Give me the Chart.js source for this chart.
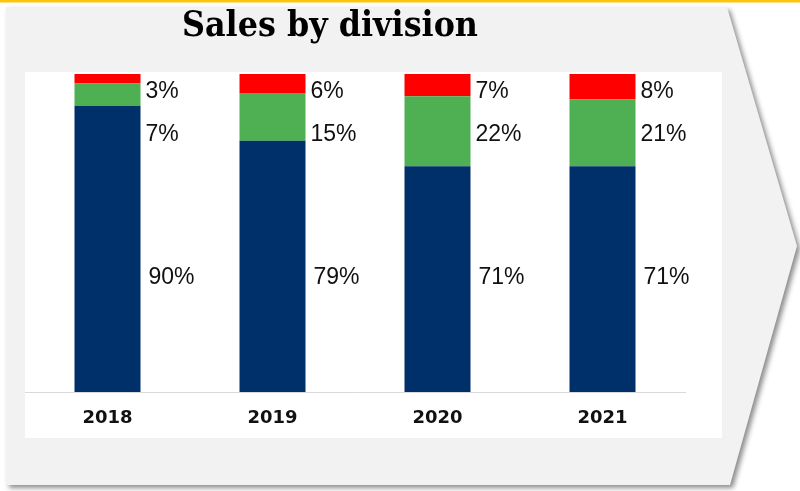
<!DOCTYPE html>
<html>
<head>
<meta charset="utf-8">
<script src="https://cdn.jsdelivr.net/npm/chart.js@4.4.0/dist/chart.umd.min.js"></script>
<style>
  html, body { margin: 0; padding: 0; background: #fff; }
  canvas { display: block; }
</style>
</head>
<body>
<canvas id="sales" width="800" height="491"></canvas>
<script>
const years = ['2018', '2019', '2020', '2021'];
const divisionA = [90, 79, 71, 71];
const divisionB = [7, 15, 22, 21];
const divisionC = [3, 6, 7, 8];

// grey arrow card with a white plot panel on it
const backdrop = {
  id: 'backdrop',
  beforeDraw(chart) {
    const ctx = chart.ctx;
    ctx.save();
    ctx.fillStyle = '#fff';
    ctx.fillRect(0, 0, chart.width, chart.height);
    ctx.fillStyle = '#fcc40a';
    ctx.fillRect(0, 0, chart.width, 2.5);

    ctx.beginPath();
    ctx.moveTo(6, 7);
    ctx.lineTo(727, 7);
    ctx.lineTo(797, 246);
    ctx.lineTo(730, 485);
    ctx.lineTo(6, 485);
    ctx.closePath();
    ctx.shadowColor = 'rgba(0,0,0,0.45)';
    ctx.shadowBlur = 5;
    ctx.shadowOffsetX = 3;
    ctx.shadowOffsetY = 3;
    ctx.fillStyle = '#f2f2f2';
    ctx.fill();
    ctx.restore();

    ctx.fillStyle = '#fff';
    ctx.fillRect(25, 72, 697, 366);
  }
};

// slab title, squeezed to its box width
const heading = {
  id: 'heading',
  afterDraw(chart) {
    const ctx = chart.ctx;
    const text = 'Sales by division';
    ctx.save();
    ctx.font = 'bold 36px "DejaVu Serif"';
    ctx.fillStyle = '#000';
    ctx.textBaseline = 'alphabetic';
    const w = ctx.measureText(text).width;
    const sx = Math.min(1, 296 / w);
    ctx.translate(182, 36);
    ctx.scale(sx, 1);
    ctx.fillText(text, 0, 0);
    ctx.restore();
  }
};

// percentage text to the right of each segment
const sideLabels = {
  id: 'sideLabels',
  afterDatasetsDraw(chart) {
    const ctx = chart.ctx;
    const y = chart.scales.y;
    ctx.save();
    ctx.font = '23px "Liberation Sans"';
    ctx.fillStyle = '#111';
    ctx.textBaseline = 'middle';
    chart.data.datasets.forEach((ds, i) => {
      chart.getDatasetMeta(i).data.forEach((bar, j) => {
        ctx.fillText(ds.data[j] + '%', bar.x + bar.width / 2 + ds.labelGap, y.getPixelForValue(ds.labelLevel));
      });
    });
    ctx.restore();
  }
};

new Chart(document.getElementById('sales'), {
  type: 'bar',
  data: {
    labels: years,
    datasets: [
      { data: divisionA, backgroundColor: '#00306a', labelLevel: 36, labelGap: 8 },
      { data: divisionB, backgroundColor: '#4eb052', labelLevel: 81, labelGap: 5 },
      { data: divisionC, backgroundColor: '#ff0000', labelLevel: 94.3, labelGap: 5 }
    ]
  },
  options: {
    responsive: false,
    animation: false,
    categoryPercentage: 1,
    barPercentage: 0.4,
    layout: {
      padding: { left: 25, right: 115, top: 74, bottom: 59 }
    },
    plugins: {
      legend: { display: false },
      tooltip: { enabled: false }
    },
    scales: {
      x: {
        stacked: true,
        grid: { display: false, drawTicks: false },
        border: { display: true, color: '#d9d9d9', width: 1 },
        ticks: {
          padding: 16,
          color: '#111',
          font: { family: 'DejaVu Sans', weight: 'bold', size: 18 }
        },
        afterFit: scale => { scale.height = 40; }
      },
      y: {
        stacked: true,
        display: false,
        min: 0,
        max: 100
      }
    }
  },
  plugins: [backdrop, heading, sideLabels]
});
</script>
</body>
</html>
